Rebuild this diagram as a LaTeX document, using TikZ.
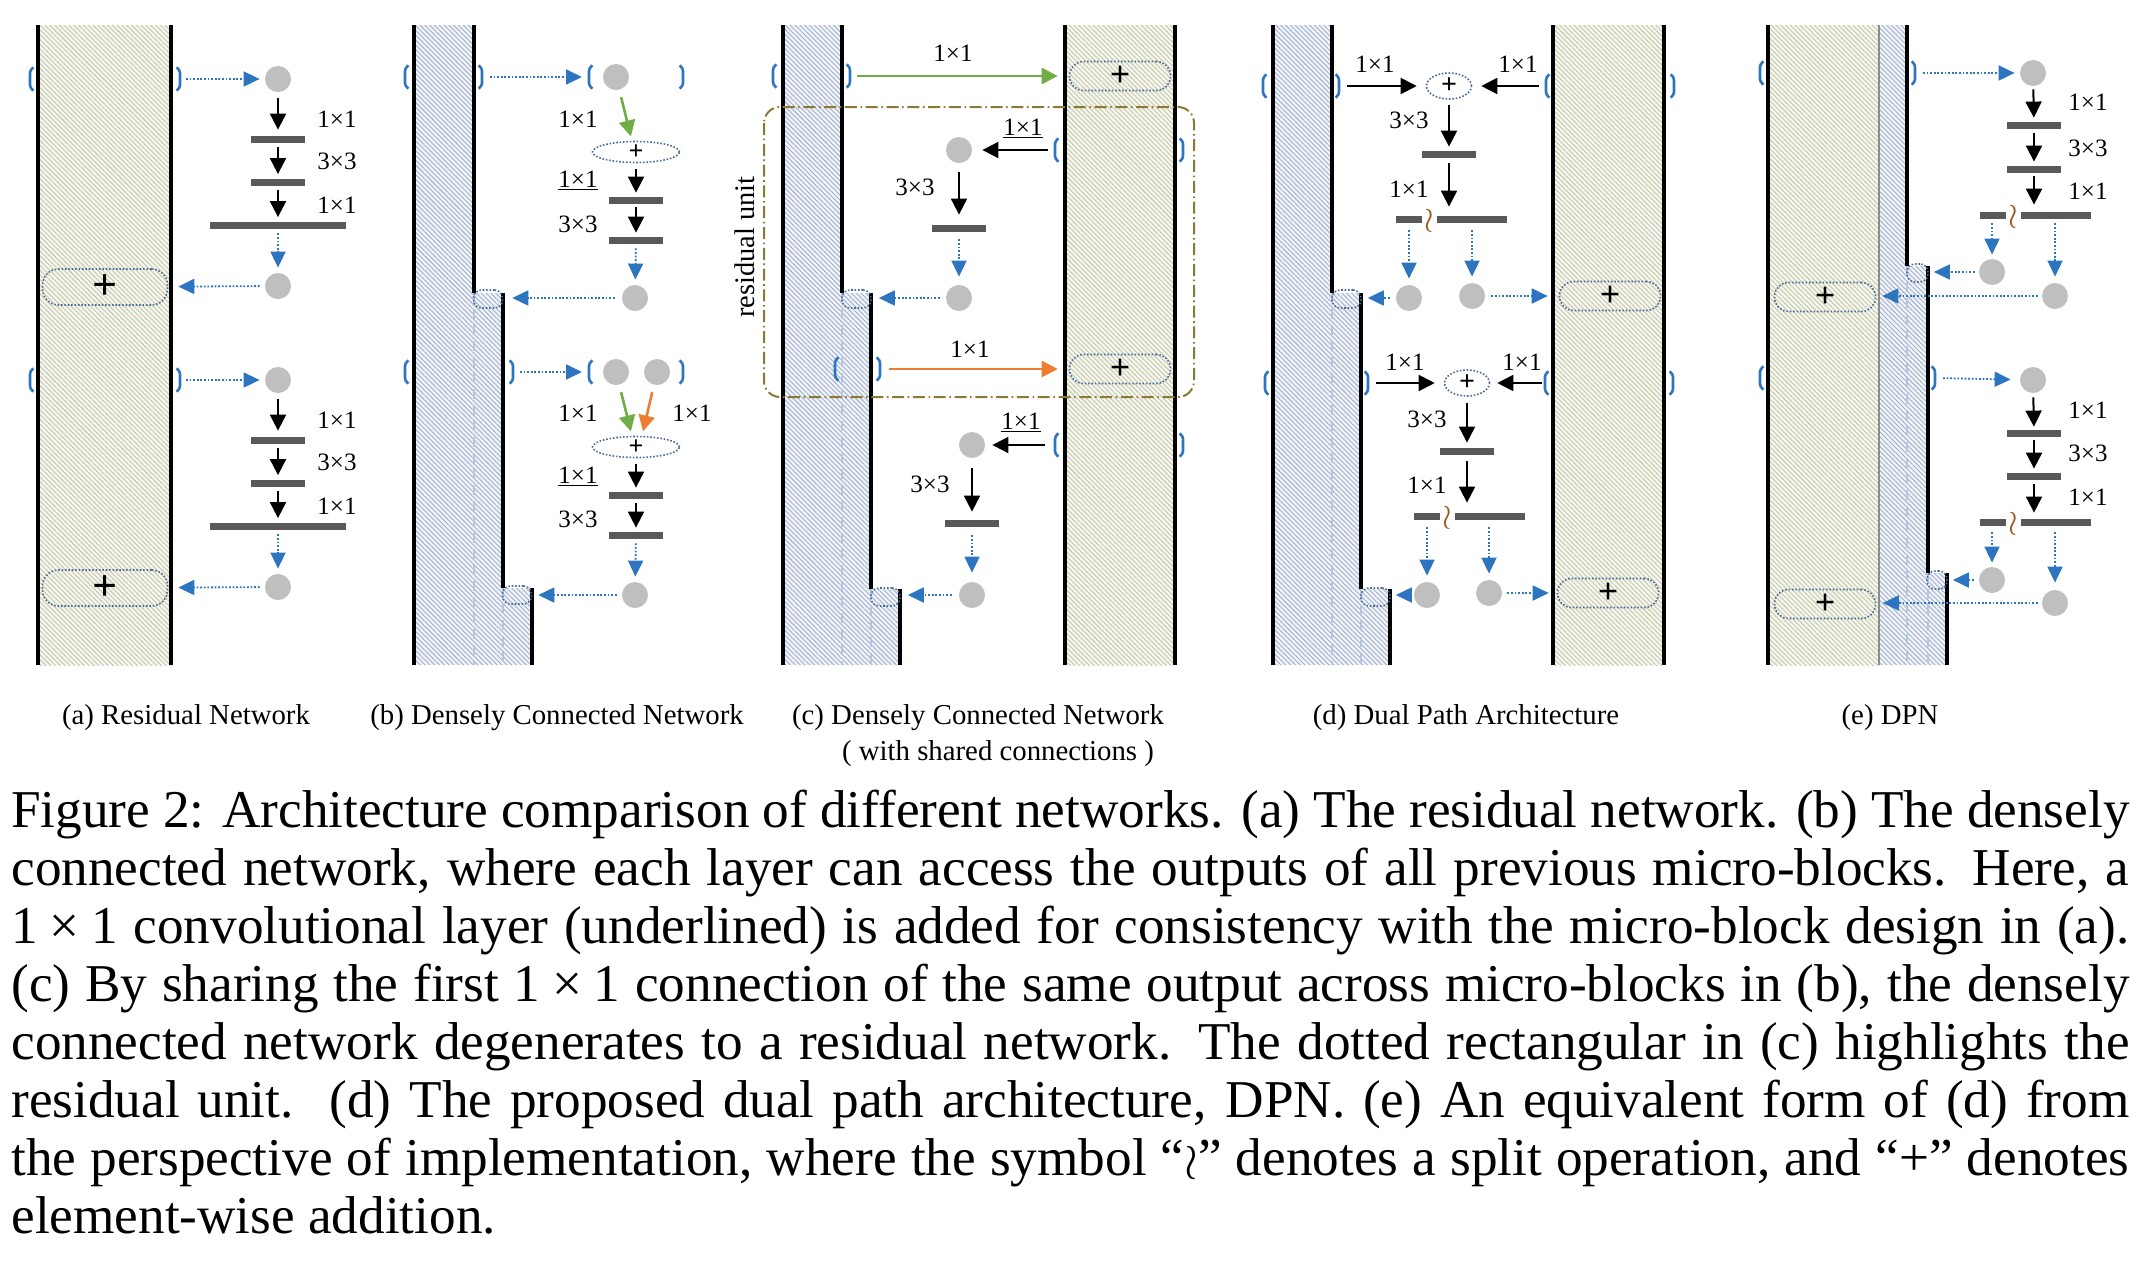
\documentclass[tikz,border=0pt]{standalone}
\usepackage{fontspec}
\setmainfont{Liberation Serif}
\usetikzlibrary{arrows.meta,patterns.meta,shapes.geometric}
\definecolor{blueC}{HTML}{2E75C0}
\definecolor{dotC}{HTML}{BFBFBF}
\definecolor{barC}{HTML}{595959}
\definecolor{greenC}{HTML}{70AD47}
\definecolor{orangeC}{HTML}{ED7D31}
\definecolor{brownC}{HTML}{8C7A34}
\definecolor{pillC}{HTML}{4A6C96}
\definecolor{hatchG}{HTML}{C4C7A8}
\definecolor{hatchB}{HTML}{9FB0CA}
\definecolor{bgG}{HTML}{F6F6F0}
\definecolor{bgB}{HTML}{F1F3F7}
\definecolor{dashB}{HTML}{B4C6E6}
\definecolor{wrC}{HTML}{9A5A1E}
\tikzset{
 wall/.style={line width=1.6pt,black},
 graywall/.style={line width=1pt,draw=black!45},
 dashln/.style={draw=dashB,line width=0.8pt,dash pattern=on 5pt off 3pt},
 gbg/.style={fill=bgG}, bbg/.style={fill=bgB},
 gh/.style={pattern={Lines[angle=-45,distance=1.7pt,line width=0.45pt]},pattern color=hatchG},
 bh/.style={pattern={Lines[angle=-45,distance=1.7pt,line width=0.45pt]},pattern color=hatchB},
 dotn/.style={circle,fill=dotC,minimum size=13pt,inner sep=0pt},
 bar/.style={rectangle,fill=barC,inner sep=0pt,minimum height=3.5pt,minimum width=#1},
 lab/.style={font=\fontsize{12.5}{14}\selectfont,inner sep=0pt,anchor=base},
 dl/.style={draw=pillC,line width=0.8pt,dash pattern=on 0.8pt off 0.9pt},
 pillA/.style={dl,rectangle,rounded corners=8pt,minimum width=62.5pt,minimum height=18pt,inner sep=0pt,font=\fontsize{22}{22}\selectfont\bfseries},
 pillB/.style={dl,rectangle,rounded corners=7pt,minimum width=50.5pt,minimum height=14.5pt,inner sep=0pt,font=\fontsize{18}{18}\selectfont\bfseries},
 ellB/.style={dl,ellipse,minimum width=43.5pt,minimum height=10.5pt,inner sep=0pt,font=\fontsize{13}{13}\selectfont\bfseries},
 ellD/.style={dl,ellipse,minimum width=22.5pt,minimum height=13pt,inner sep=0pt,font=\fontsize{14}{14}\selectfont\bfseries},
 stepbx/.style={dl,rectangle,rounded corners=4pt,minimum width=#1,minimum height=9pt,inner sep=0pt},
 stepbx/.default=14.5pt,
 brk/.style={draw=blueC,line width=1.3pt,rounded corners=1.5pt},
 lbrk/.pic={\draw[brk] (3.5,-11.5) -- (0,-9) -- (0,9) -- (3.5,11.5);},
 rbrk/.pic={\draw[brk] (-3.5,-11.5) -- (0,-9) -- (0,9) -- (-3.5,11.5);},
 barrow/.style={line width=1pt,-{Triangle[length=8pt,width=8pt]},shorten <=2.25pt,shorten >=2pt},
 bdarrow/.style={draw=blueC,line width=0.9pt,dash pattern=on 0.9pt off 0.9pt,-{Triangle[length=8pt,width=7.5pt]},shorten <=2.5pt,shorten >=2.5pt},
 garrow/.style={draw=greenC,line width=1.3pt,-{Triangle[length=8pt,width=8pt]}},
 oarrow/.style={draw=orangeC,line width=1.3pt,-{Triangle[length=8pt,width=8pt]}},
 wrn/.style={font=\fontsize{16}{16}\selectfont,text=wrC,inner sep=0pt},
 resbox/.style={draw=brownC,line width=1pt,dash pattern=on 6pt off 1.8pt on 0.8pt off 1.8pt,rounded corners=8pt},
 subl/.style={font=\fontsize{14.4}{17}\selectfont,anchor=base,inner sep=0pt},
 capl/.style={font=\fontsize{26.6}{29}\selectfont,anchor=base west,inner sep=0pt},
}
\begin{document}
\begin{tikzpicture}[x=0.5pt,y=-0.5pt]
\useasboundingbox (0,0) rectangle (2140,1264);

% ================= (a) =================
\fill[gbg] (38,25) rectangle (171,665);
\fill[gh] (38,25) rectangle (171,665);
\draw[wall] (38,25) -- (38,665);
\draw[wall] (171,25) -- (171,665);
\foreach \k/\dy in {1/0,2/301}{
 \begin{scope}[shift={(0,\dy)}]
  \coordinate (aL\k) at (30,79); \pic at (aL\k) {lbrk};
  \coordinate (aR\k) at (180,79); \pic at (aR\k) {rbrk};
  \node[dotn] (aI\k) at (278,79) {};
  \node[bar=27pt] (aBa\k) at (278,139) {};
  \node[bar=27pt] (aBb\k) at (278,182) {};
  \node[bar=68pt] (aBc\k) at (278,225) {};
  \node[dotn] (aO\k) at (278,286) {};
  \node[pillA] (aP\k) at (105,287) {+};
  \node[lab] (aTa\k) at (337,127) {1×1};
  \node[lab] (aTb\k) at (337,169) {3×3};
  \node[lab] (aTc\k) at (337,213) {1×1};
  \draw[bdarrow,shorten <=3pt] (aR\k) -- (aI\k);
  \draw[barrow,shorten <=3pt,shorten >=2.75pt] (aI\k) -- (aBa\k);
  \draw[barrow] (aBa\k) -- (aBb\k);
  \draw[barrow] (aBb\k) -- (aBc\k);
  \draw[bdarrow,shorten <=2.25pt] (aBc\k) -- (aO\k);
  \draw[bdarrow,shorten >=5pt] (aO\k) -- (aP\k);
 \end{scope}
}

% ================= (b) =================
\fill[bbg] (414,25) -- (474,25) -- (474,293) -- (503,293) -- (503,588) -- (532,588) -- (532,665) -- (414,665) -- cycle;
\fill[bh] (414,25) -- (474,25) -- (474,293) -- (503,293) -- (503,588) -- (532,588) -- (532,665) -- (414,665) -- cycle;
\draw[dashln] (474,293) -- (474,665);
\draw[dashln] (503,588) -- (503,665);
\draw[wall] (414,25) -- (414,665);
\draw[wall] (474,25) -- (474,293);
\draw[wall] (503,293) -- (503,588);
\draw[wall] (532,588) -- (532,665);
\node[stepbx] (bS1) at (488,299) {};
\node[stepbx] (bS2) at (517,595) {};
% block b1
\coordinate (bL1) at (405,77); \pic at (bL1) {lbrk};
\coordinate (bR1) at (482,77); \pic at (bR1) {rbrk};
\coordinate (bLL1) at (589,77); \pic at (bLL1) {lbrk};
\coordinate (bRR1) at (683,77); \pic at (bRR1) {rbrk};
\node[dotn] (bD1) at (616,77) {};
\node[ellB] (bE1) at (636,152) {+};
\node[bar=27pt] (bBa1) at (636,200) {};
\node[bar=27pt] (bBb1) at (636,240) {};
\node[dotn] (bO1) at (635,298) {};
\node[lab] (bTa1) at (578,127) {1×1};
\node[lab] (bTb1) at (578,187) {\underline{1×1}};
\node[lab] (bTc1) at (578,232) {3×3};
\draw[bdarrow,shorten <=4pt,shorten >=3.5pt] (bR1) -- (bLL1);
\draw[garrow,shorten <=3.7pt,shorten >=2.2pt] (bD1) -- ([xshift=-2pt]bE1.north);
\draw[barrow,shorten <=2.75pt,shorten >=1.75pt] (bE1) -- (bBa1);
\draw[barrow,shorten <=1.75pt,shorten >=1.75pt] (bBa1) -- (bBb1);
\draw[bdarrow,shorten <=2.25pt] (bBb1) -- (bO1);
\draw[bdarrow,shorten <=3.5pt,shorten >=4.5pt] (bO1.west) -- (bO1.west -| bS1.east);
% block b2
\coordinate (bL2) at (405,372); \pic at (bL2) {lbrk};
\coordinate (bR2) at (513,372); \pic at (bR2) {rbrk};
\coordinate (bLL2) at (589,372); \pic at (bLL2) {lbrk};
\coordinate (bRR2) at (683,372); \pic at (bRR2) {rbrk};
\node[dotn] (bD2) at (616,372) {};
\node[dotn] (bD3) at (657,372) {};
\node[ellB] (bE2) at (636,447) {+};
\node[bar=27pt] (bBa2) at (636,495) {};
\node[bar=27pt] (bBb2) at (636,535) {};
\node[dotn] (bO2) at (635,595) {};
\node[lab] (bTa2) at (578,421) {1×1};
\node[lab] (bTd2) at (692,421) {1×1};
\node[lab] (bTb2) at (578,483) {\underline{1×1}};
\node[lab] (bTc2) at (578,527) {3×3};
\draw[bdarrow,shorten <=3.5pt,shorten >=3.5pt] (bR2) -- (bLL2);
\draw[garrow,shorten <=3.7pt,shorten >=2.2pt] (bD2) -- ([xshift=-2pt]bE2.north);
\draw[oarrow,shorten <=3.7pt,shorten >=2.2pt] (bD3) -- ([xshift=3pt]bE2.north);
\draw[barrow,shorten <=2.75pt,shorten >=1.75pt] (bE2) -- (bBa2);
\draw[barrow,shorten <=2.25pt,shorten >=1.75pt] (bBa2) -- (bBb2);
\draw[bdarrow,shorten <=2.25pt] (bBb2) -- (bO2);
\draw[bdarrow,shorten <=2.5pt,shorten >=3pt] (bO2.west) -- (bO2.west -| bS2.east);

% ================= (c) =================
\fill[bbg] (783,25) -- (842,25) -- (842,293) -- (871,293) -- (871,589) -- (900,589) -- (900,665) -- (783,665) -- cycle;
\fill[bh] (783,25) -- (842,25) -- (842,293) -- (871,293) -- (871,589) -- (900,589) -- (900,665) -- (783,665) -- cycle;
\fill[gbg] (1065,25) rectangle (1175,665);
\fill[gh] (1065,25) rectangle (1175,665);
\draw[dashln] (842,293) -- (842,665);
\draw[dashln] (871,589) -- (871,665);
\draw[wall] (783,25) -- (783,665);
\draw[wall] (842,25) -- (842,293);
\draw[wall] (871,293) -- (871,589);
\draw[wall] (900,589) -- (900,665);
\draw[wall] (1065,25) -- (1065,665);
\draw[wall] (1175,25) -- (1175,665);
\draw[resbox] (764,107) rectangle (1194,397);
\node[font=\fontsize{14.2}{16}\selectfont,rotate=90,inner sep=0pt] (cRU) at (745,247) {residual unit};
\node[stepbx] (cS1) at (856.5,299) {};
\node[stepbx] (cS2) at (885.5,597) {};
% top shared connection
\coordinate (cL0) at (773,76); \pic at (cL0) {lbrk};
\coordinate (cR0) at (850,76); \pic at (cR0) {rbrk};
\node[pillB] (cP1) at (1120,76) {+};
\node[lab] (cT0) at (953,61) {1×1};
\draw[garrow,shorten <=3.5pt,shorten >=5.5pt] (cR0) -- (cP1);
% block c1
\coordinate (cL1) at (1055,150); \pic at (cL1) {lbrk};
\coordinate (cR1) at (1183,150); \pic at (cR1) {rbrk};
\node[dotn] (cD1) at (959,150) {};
\node[bar=27pt] (cB1) at (959,228) {};
\node[dotn] (cO1) at (959,298) {};
\node[lab] (cTa1) at (1023,135) {\underline{1×1}};
\node[lab] (cTb1) at (915,195) {3×3};
\draw[barrow,shorten <=3.5pt,shorten >=5pt] (cL1) -- (cD1);
\draw[barrow,shorten <=4.5pt,shorten >=4.75pt] (cD1) -- (cB1);
\draw[bdarrow,shorten <=3.75pt,shorten >=4pt] (cB1) -- (cO1);
\draw[bdarrow,shorten <=3pt,shorten >=3.5pt] (cO1.west) -- (cO1.west -| cS1.east);
% second shared connection
\coordinate (cL2) at (835,369); \pic at (cL2) {lbrk};
\coordinate (cR2) at (880,369); \pic at (cR2) {rbrk};
\node[pillB] (cP2) at (1120,369) {+};
\node[lab] (cT2) at (970,357) {1×1};
\draw[oarrow,shorten <=4.5pt,shorten >=5.5pt] (cR2) -- (cP2);
% block c2
\coordinate (cL3) at (1055,445); \pic at (cL3) {lbrk};
\coordinate (cR3) at (1183,445); \pic at (cR3) {rbrk};
\node[dotn] (cD2) at (972,445) {};
\node[bar=27pt] (cB2) at (972,523) {};
\node[dotn] (cO2) at (972,595) {};
\node[lab] (cTa2) at (1021,429) {\underline{1×1}};
\node[lab] (cTb2) at (930,492) {3×3};
\draw[barrow,shorten <=5pt,shorten >=3.5pt] (cL3) -- (cD2);
\draw[barrow,shorten <=5pt,shorten >=3.75pt] (cD2) -- (cB2);
\draw[bdarrow,shorten <=4.25pt,shorten >=4.5pt] (cB2) -- (cO2);
\draw[bdarrow,shorten <=3.5pt,shorten >=3.5pt] (cO2.west) -- (cO2.west -| cS2.east);

% ================= (d) =================
\fill[bbg] (1273,25) -- (1332,25) -- (1332,293) -- (1361,293) -- (1361,589) -- (1390,589) -- (1390,665) -- (1273,665) -- cycle;
\fill[bh] (1273,25) -- (1332,25) -- (1332,293) -- (1361,293) -- (1361,589) -- (1390,589) -- (1390,665) -- (1273,665) -- cycle;
\fill[gbg] (1553,25) rectangle (1664,665);
\fill[gh] (1553,25) rectangle (1664,665);
\draw[dashln] (1332,293) -- (1332,665);
\draw[dashln] (1361,589) -- (1361,665);
\draw[wall] (1273,25) -- (1273,665);
\draw[wall] (1332,25) -- (1332,293);
\draw[wall] (1361,293) -- (1361,589);
\draw[wall] (1390,589) -- (1390,665);
\draw[wall] (1553,25) -- (1553,665);
\draw[wall] (1664,25) -- (1664,665);
\node[stepbx] (dS1) at (1346.5,299) {};
\node[stepbx] (dS2) at (1375.5,597) {};
% block d1
\coordinate (dL1) at (1263,86); \pic at (dL1) {lbrk};
\coordinate (dR1) at (1339,86); \pic at (dR1) {rbrk};
\coordinate (dLL1) at (1546,86); \pic at (dLL1) {lbrk};
\coordinate (dRR1) at (1674,86); \pic at (dRR1) {rbrk};
\node[ellD] (dE1) at (1449,86) {+};
\node[bar=27pt] (dB1) at (1449,154) {};
\node[bar=13pt] (dSa1) at (1409,219) {};
\node[wrn] (dW1) at (1429,221) {$\wr$};
\node[bar=35pt] (dSb1) at (1472,219) {};
\node[dotn] (dO1) at (1409,298) {};
\node[dotn] (dO2) at (1472,296) {};
\node[pillB] (dP1) at (1610,296) {+};
\node[lab] (dTa1) at (1375,72) {1×1};
\node[lab] (dTb1) at (1518,72) {1×1};
\node[lab] (dTc1) at (1409,128) {3×3};
\node[lab] (dTd1) at (1409,197) {1×1};
\draw[barrow,shorten <=4pt,shorten >=4.5pt] (dR1) -- (dE1);
\draw[barrow,shorten <=3.5pt,shorten >=4.5pt] (dLL1) -- (dE1);
\draw[barrow,shorten <=2.5pt,shorten >=1.75pt] (dE1) -- (dB1);
\draw[barrow,shorten <=2.75pt,shorten >=4.25pt] (dB1.south) -- (dB1.south |- dSb1.north);
\draw[bdarrow,shorten <=3.75pt,shorten >=3pt] (dSa1) -- (dO1);
\draw[bdarrow,shorten <=3.75pt,shorten >=3pt] (dSb1) -- (dO2);
\draw[bdarrow,shorten <=3pt,shorten >=3pt] (dO1.west) -- (dO1.west -| dS1.east);
\draw[bdarrow,shorten <=3pt,shorten >=5.5pt] (dO2) -- (dP1);
% block d2
\coordinate (dL2) at (1265,383); \pic at (dL2) {lbrk};
\coordinate (dR2) at (1368,383); \pic at (dR2) {rbrk};
\coordinate (dLL2) at (1545,383); \pic at (dLL2) {lbrk};
\coordinate (dRR2) at (1673,383); \pic at (dRR2) {rbrk};
\node[ellD] (dE2) at (1467,383) {+};
\node[bar=27pt] (dB2) at (1467,451) {};
\node[bar=13pt] (dSa2) at (1427,516) {};
\node[wrn] (dW2) at (1447,518) {$\wr$};
\node[bar=35pt] (dSb2) at (1490,516) {};
\node[dotn] (dO3) at (1427,595) {};
\node[dotn] (dO4) at (1489,593) {};
\node[pillB] (dP2) at (1608,593) {+};
\node[lab] (dTa2) at (1405,370) {1×1};
\node[lab] (dTb2) at (1522,370) {1×1};
\node[lab] (dTc2) at (1427,427) {3×3};
\node[lab] (dTd2) at (1427,493) {1×1};
\draw[barrow,shorten <=4pt,shorten >=4.5pt] (dR2) -- (dE2);
\draw[barrow,shorten <=1.5pt,shorten >=3.5pt] (dLL2) -- (dE2);
\draw[barrow,shorten <=3pt,shorten >=2.25pt] (dE2) -- (dB2);
\draw[barrow,shorten <=3.25pt,shorten >=4.75pt] (dB2.south) -- (dB2.south |- dSb2.north);
\draw[bdarrow,shorten <=3.75pt,shorten >=3pt] (dSa2) -- (dO3);
\draw[bdarrow,shorten <=3.75pt,shorten >=3pt] (dSb2.south -| dO4) -- (dO4);
\draw[bdarrow,shorten <=2pt,shorten >=2.5pt] (dO3.west) -- (dO3.west -| dS2.east);
\draw[bdarrow,shorten <=2.5pt,shorten >=4pt] (dO4) -- (dP2);

% ================= (e) =================
\fill[gbg] (1768,25) rectangle (1879,665);
\fill[gh] (1768,25) rectangle (1879,665);
\fill[bbg] (1879,25) -- (1907,25) -- (1907,266) -- (1928,266) -- (1928,573) -- (1947,573) -- (1947,665) -- (1879,665) -- cycle;
\fill[bh] (1879,25) -- (1907,25) -- (1907,266) -- (1928,266) -- (1928,573) -- (1947,573) -- (1947,665) -- (1879,665) -- cycle;
\draw[dashln] (1907,266) -- (1907,665);
\draw[dashln] (1928,573) -- (1928,665);
\draw[wall] (1768,25) -- (1768,665);
\draw[graywall] (1879,25) -- (1879,665);
\draw[wall] (1907,25) -- (1907,266);
\draw[wall] (1928,266) -- (1928,573);
\draw[wall] (1947,573) -- (1947,665);
\node[stepbx=10.5pt] (eS1) at (1917.5,273) {};
\node[stepbx=10pt] (eS2) at (1937,580) {};
% block e1
\coordinate (eL1) at (1760,73); \pic at (eL1) {lbrk};
\coordinate (eR1) at (1915,73); \pic at (eR1) {rbrk};
\node[dotn] (eI1) at (2033,73) {};
\node[bar=27pt] (eBa1) at (2034,125) {};
\node[bar=27pt] (eBb1) at (2034,169) {};
\node[bar=13pt] (eSa1) at (1993,215) {};
\node[wrn] (eW1) at (2013,217) {$\wr$};
\node[bar=35pt] (eSb1) at (2056,215) {};
\node[dotn] (eO1) at (1992,272) {};
\node[dotn] (eO2) at (2055,296) {};
\node[pillB] (eP1) at (1825,297) {+};
\node[lab] (eTa1) at (2088,110) {1×1};
\node[lab] (eTb1) at (2088,156) {3×3};
\node[lab] (eTc1) at (2088,199) {1×1};
\draw[bdarrow,shorten <=4pt,shorten >=2.5pt] (eR1) -- (eI1);
\draw[barrow,shorten <=1.5pt,shorten >=1.75pt] (eI1) -- (eBa1);
\draw[barrow,shorten <=2.25pt,shorten >=1.75pt] (eBa1) -- (eBb1);
\draw[barrow,shorten <=1.75pt,shorten >=3.25pt] (eBb1.south) -- (eBb1.south |- eSb1.north);
\draw[bdarrow,shorten <=2.25pt,shorten >=2pt] (eSa1.south -| eO1) -- (eO1);
\draw[bdarrow,shorten <=2.25pt,shorten >=3pt] (eSb1.south -| eO2) -- (eO2);
\draw[bdarrow,shorten <=2pt,shorten >=2.5pt] (eO1.west) -- (eO1.west -| eS1.east);
\draw[bdarrow,shorten <=2pt,shorten >=3pt] (eO2.west) -- (eO2.west -| eP1.east);
% block e2
\coordinate (eL2) at (1760,378); \pic at (eL2) {lbrk};
\coordinate (eR2) at (1935,378); \pic at (eR2) {rbrk};
\node[dotn] (eI2) at (2033,380) {};
\node[bar=27pt] (eBa2) at (2034,433) {};
\node[bar=27pt] (eBb2) at (2034,476) {};
\node[bar=13pt] (eSa2) at (1993,522) {};
\node[wrn] (eW2) at (2013,524) {$\wr$};
\node[bar=35pt] (eSb2) at (2056,522) {};
\node[dotn] (eO3) at (1992,580) {};
\node[dotn] (eO4) at (2055,603) {};
\node[pillB] (eP2) at (1825,604) {+};
\node[lab] (eTa2) at (2088,418) {1×1};
\node[lab] (eTb2) at (2088,461) {3×3};
\node[lab] (eTc2) at (2088,505) {1×1};
\draw[bdarrow,shorten <=4pt,shorten >=4.5pt] (eR2) -- (eI2);
\draw[barrow,shorten <=2pt,shorten >=1.25pt] (eI2) -- (eBa2);
\draw[barrow,shorten <=1.75pt,shorten >=1.75pt] (eBa2) -- (eBb2);
\draw[barrow,shorten <=2.25pt,shorten >=2.75pt] (eBb2.south) -- (eBb2.south |- eSb2.north);
\draw[bdarrow,shorten <=3.25pt,shorten >=2pt] (eSa2.south -| eO3) -- (eO3);
\draw[bdarrow,shorten <=3.25pt,shorten >=3.5pt] (eSb2.south -| eO4) -- (eO4);
\draw[bdarrow,shorten <=2.5pt,shorten >=2.5pt] (eO3.west) -- (eO3.west -| eS2.east);
\draw[bdarrow,shorten <=2pt,shorten >=3.25pt] (eO4.west) -- (eO4.west -| eP2.east);

% ================= sub-captions =================
\node[subl] (sa) at (186,724) {(a) Residual Network};
\node[subl] (sb) at (557,724) {(b) Densely Connected Network};
\node[subl] (sc) at (978,724) {(c) Densely Connected Network};
\node[subl] (sc2) at (998,760) {( with shared connections )};
\node[subl] (sd) at (1466,724) {(d) Dual Path Architecture};
\node[subl] (se) at (1890,724) {(e) DPN};

% ================= caption =================
\node[capl] (cap1) at (11,827) {\makebox[1059pt][s]{Figure 2: Architecture comparison of different networks. (a) The residual network. (b) The densely}};
\node[capl] (cap2) at (11,885) {\makebox[1059pt][s]{connected network, where each layer can access the outputs of all previous micro-blocks. Here, a}};
\node[capl] (cap3) at (11,943) {\makebox[1059pt][s]{1\kern.22em×\kern.22em1 convolutional layer (underlined) is added for consistency with the micro-block design in (a).}};
\node[capl] (cap4) at (11,1001) {\makebox[1059pt][s]{(c) By sharing the first 1\kern.22em×\kern.22em1 connection of the same output across micro-blocks in (b), the densely}};
\node[capl] (cap5) at (11,1059) {\makebox[1059pt][s]{connected network degenerates to a residual network. The dotted rectangular in (c) highlights the}};
\node[capl] (cap6) at (11,1117) {\makebox[1059pt][s]{residual unit.\ \ (d) The proposed dual path architecture, DPN. (e) An equivalent form of (d) from}};
\node[capl] (cap7) at (11,1175) {\makebox[1059pt][s]{the perspective of implementation, where the symbol “$\wr$” denotes a split operation, and “+” denotes}};
\node[capl] (cap8) at (11,1233) {element-wise addition.};
\end{tikzpicture}
\end{document}
